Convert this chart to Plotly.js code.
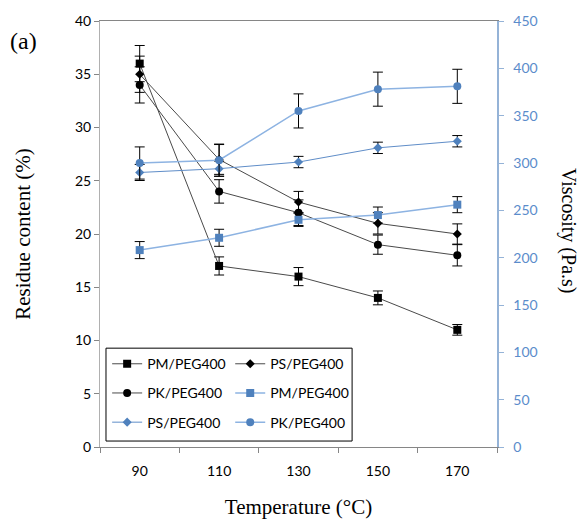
<!DOCTYPE html>
<html>
<head>
<meta charset="utf-8">
<script src="https://cdn.plot.ly/plotly-3.0.1.min.js"></script>
<style>html,body{margin:0;padding:0;background:#fff;}#chart{width:579px;height:519px;}</style>
</head>
<body>
<div id="chart"></div>
<script>
var temperatures = ['90', '110', '130', '150', '170'];

var residuePM = [36, 17, 16, 14, 11];
var residuePS = [35, 27, 23, 21, 20];
var residuePK = [34, 24, 22, 19, 18];
var residuePMErr = [1.7, 0.85, 0.85, 0.65, 0.5];
var residuePSErr = [1.7, 1.4, 1.0, 1.0, 0.95];
var residuePKErr = [1.7, 1.1, 1.2, 0.9, 1.0];

var viscPM = [208, 221, 240, 245, 256];
var viscPS = [290, 294, 301, 316, 323];
var viscPK = [300, 303, 355, 378, 381];
var viscPMErr = [9, 9, 7, 8.5, 8.5];
var viscPSErr = [8.5, 8, 6, 6, 6];
var viscPKErr = [17, 17, 18, 18, 18];

var seriesNames = ['PM/PEG400', 'PS/PEG400', 'PK/PEG400'];

function errBar(arr) {
  return {type: 'data', array: arr, visible: true, color: '#000000', thickness: 1, width: 5};
}

var blackLine = '#4a4a4a';
var blueMarker = '#4F81BD';
var blueLine = '#8DB3E2';

var traces = [
  {x: temperatures, y: residuePM, name: seriesNames[0], type: 'scatter', mode: 'lines+markers',
   line: {color: blackLine, width: 1}, marker: {symbol: 'square', size: 8, color: '#000'},
   error_y: errBar(residuePMErr), legend: 'legend', legendgroup: 'a'},
  {x: temperatures, y: residuePS, name: seriesNames[1], type: 'scatter', mode: 'lines+markers',
   line: {color: blackLine, width: 1}, marker: {symbol: 'diamond', size: 7, color: '#000'},
   error_y: errBar(residuePSErr), legend: 'legend2', legendgroup: 'b'},
  {x: temperatures, y: residuePK, name: seriesNames[2], type: 'scatter', mode: 'lines+markers',
   line: {color: blackLine, width: 1}, marker: {symbol: 'circle', size: 8, color: '#000'},
   error_y: errBar(residuePKErr), legend: 'legend', legendgroup: 'c'},
  {x: temperatures, y: viscPM, name: seriesNames[0], type: 'scatter', mode: 'lines+markers', yaxis: 'y2',
   line: {color: blueLine, width: 1.5}, marker: {symbol: 'square', size: 8, color: blueMarker},
   error_y: errBar(viscPMErr), legend: 'legend2', legendgroup: 'd'},
  {x: temperatures, y: viscPS, name: seriesNames[1], type: 'scatter', mode: 'lines+markers', yaxis: 'y2',
   line: {color: '#5F8DC8', width: 1}, marker: {symbol: 'diamond', size: 7, color: blueMarker},
   error_y: errBar(viscPSErr), legend: 'legend', legendgroup: 'e'},
  {x: temperatures, y: viscPK, name: seriesNames[2], type: 'scatter', mode: 'lines+markers', yaxis: 'y2',
   line: {color: blueLine, width: 1.5}, marker: {symbol: 'circle', size: 8, color: blueMarker},
   error_y: errBar(viscPKErr), legend: 'legend2', legendgroup: 'f'}
];

var tickFont = {family: 'Lato, sans-serif', size: 14, color: '#000'};
var serif = 'Liberation Serif, Times New Roman, serif';

var legendCommon = {
  orientation: 'v', bgcolor: 'rgba(0,0,0,0)', borderwidth: 0,
  font: {family: 'Lato, sans-serif', size: 14, color: '#000'},
  xanchor: 'left', yanchor: 'top', y: 0.232, tracegroupgap: 8, itemwidth: 30
};

var layout = {
  width: 579, height: 519,
  margin: {l: 100, r: 82, t: 21, b: 72, pad: 0},
  paper_bgcolor: '#fff', plot_bgcolor: '#fff',
  showlegend: true,
  xaxis: {
    type: 'category', range: [-0.5, 4.5], tickson: 'boundaries',
    ticks: 'outside', ticklen: 5, tickcolor: '#868686',
    showline: true, linecolor: '#868686', linewidth: 1, mirror: true,
    showgrid: false, zeroline: false, tickfont: tickFont, ticklabelstandoff: 11,
    title: {text: 'Temperature (°C)', font: {family: serif, size: 21, color: '#000'}, standoff: 22}
  },
  yaxis: {
    range: [0, 40], dtick: 5, ticks: 'outside', ticklen: 5, tickcolor: '#868686',
    showline: true, linecolor: '#B0B0B0', linewidth: 1, showgrid: false, zeroline: false,
    tickfont: tickFont,
    title: {text: 'Residue content (%)', font: {family: serif, size: 21, color: '#000'}, standoff: 38}
  },
  yaxis2: {
    overlaying: 'y', side: 'right', range: [0, 450], dtick: 50,
    ticks: 'outside', ticklen: 5, tickcolor: '#95B3D7', ticklabelstandoff: 7,
    showline: true, linecolor: '#95B3D7', linewidth: 1.5, showgrid: false, zeroline: false,
    tickfont: {family: 'Lato, sans-serif', size: 14, color: '#5B8CCB'}
  },
  legend: Object.assign({}, legendCommon, {x: 0.018}),
  legend2: Object.assign({}, legendCommon, {x: 0.328}),
  shapes: [{
    type: 'rect', xref: 'paper', yref: 'paper', x0: 0.0151, x1: 0.635, y0: 0.014, y1: 0.232,
    line: {color: '#000', width: 1}, fillcolor: '#fff', layer: 'above'
  }],
  annotations: [
    {text: 'Viscosity (Pa.s)', xref: 'paper', yref: 'paper', x: (569 - 100) / 397, y: (447 - 230) / 426,
     showarrow: false, textangle: 90, xanchor: 'center', yanchor: 'middle',
     font: {family: serif, size: 20, color: '#000'}},
    {text: '(a)', xref: 'paper', yref: 'paper', x: (8 - 100) / 397, y: (447 - 41) / 426,
     showarrow: false, xanchor: 'left', yanchor: 'middle',
     font: {family: serif, size: 24, color: '#000'}}
  ]
};

Plotly.newPlot('chart', traces, layout, {displayModeBar: false, staticPlot: true});
</script>
</body>
</html>
